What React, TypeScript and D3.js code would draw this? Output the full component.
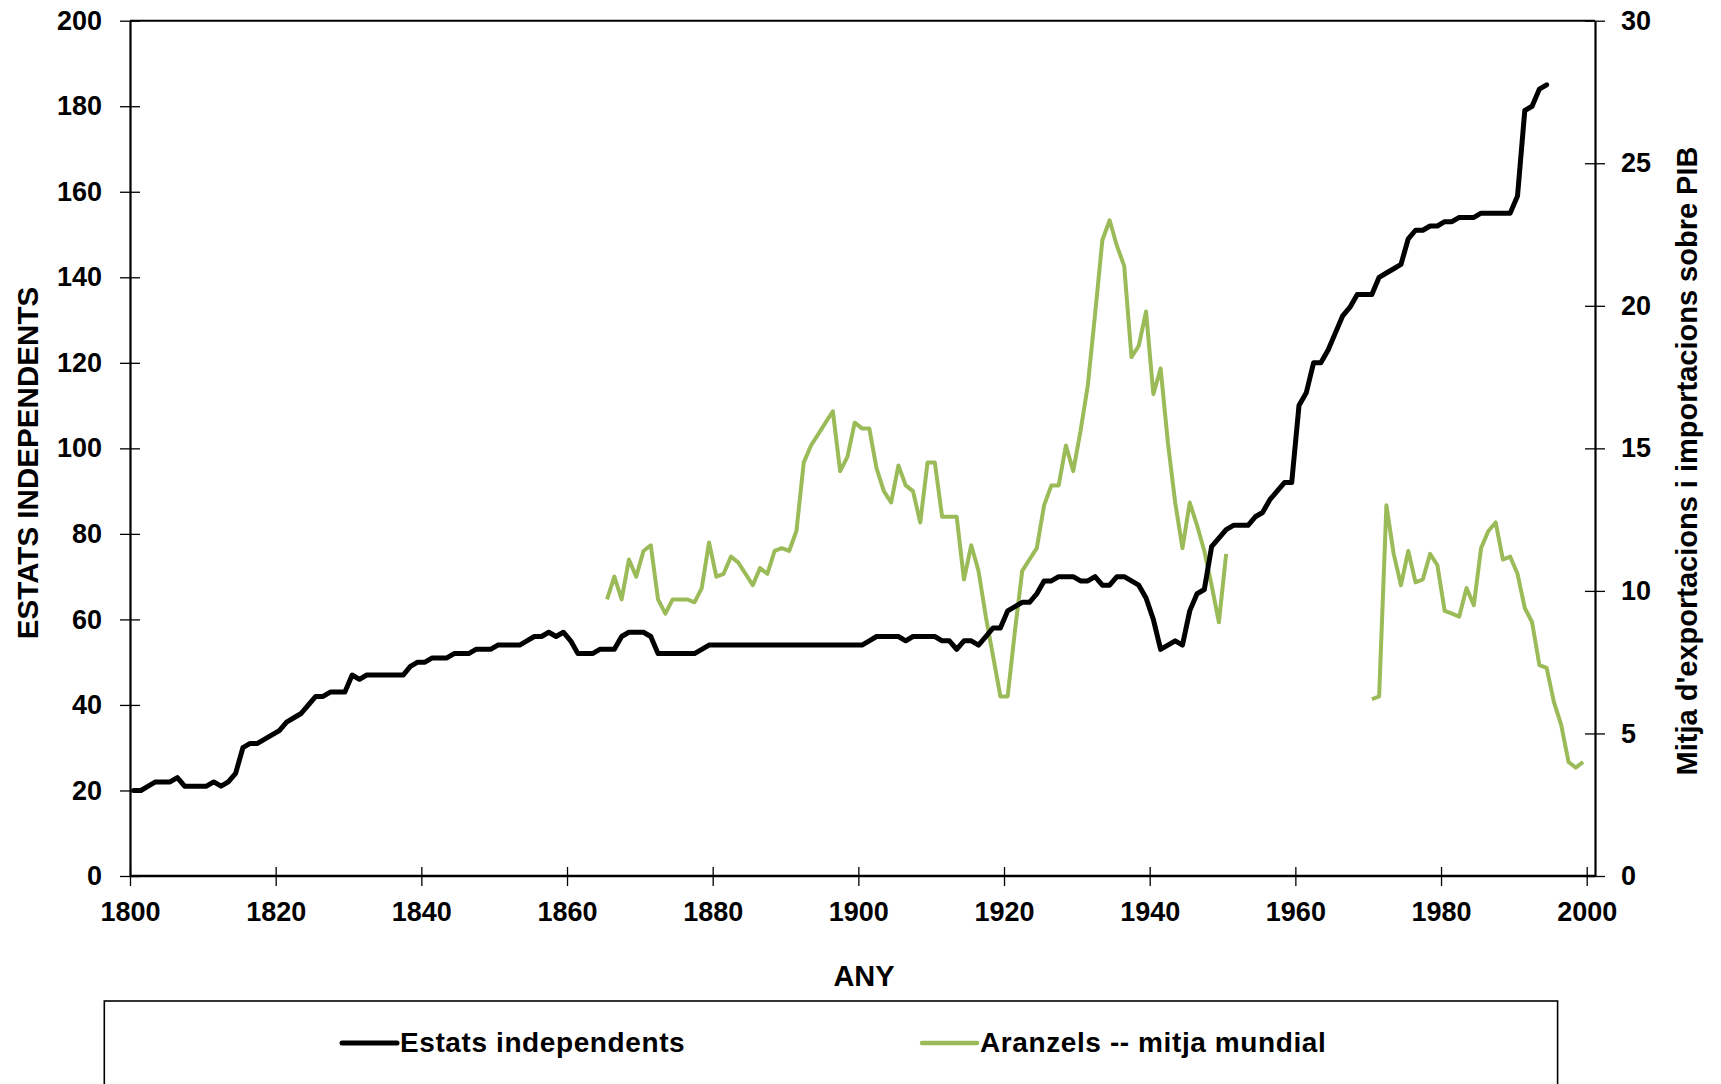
import React, { useRef, useEffect } from 'react';
import * as d3 from 'd3';

// Estats independents, one value per year from 1800
const stateStartYear = 1800;
const stateCounts = [
  20, 20, 21, 22, 22, 22, 23, 21, 21, 21, 21, 22, 21, 22, 24, 30, 31, 31, 32, 33, // 1800-1819
  34, 36, 37, 38, 40, 42, 42, 43, 43, 43, 47, 46, 47, 47, 47, 47, 47, 47, 49, 50, // 1820-1839
  50, 51, 51, 51, 52, 52, 52, 53, 53, 53, 54, 54, 54, 54, 55, 56, 56, 57, 56, 57, // 1840-1859
  55, 52, 52, 52, 53, 53, 53, 56, 57, 57, 57, 56, 52, 52, 52, 52, 52, 52, 53, 54, // 1860-1879
  54, 54, 54, 54, 54, 54, 54, 54, 54, 54, 54, 54, 54, 54, 54, 54, 54, 54, 54, 54, // 1880-1899
  54, 55, 56, 56, 56, 56, 55, 56, 56, 56, 56, 55, 55, 53, 55, 55, 54, 56, 58, 58, // 1900-1919
  62, 63, 64, 64, 66, 69, 69, 70, 70, 70, 69, 69, 70, 68, 68, 70, 70, 69, 68, 65, // 1920-1939
  60, 53, 54, 55, 54, 62, 66, 67, 77, 79, 81, 82, 82, 82, 84, 85, 88, 90, 92, 92, // 1940-1959
  110, 113, 120, 120, 123, 127, 131, 133, 136, 136, 136, 140, 141, 142, 143, 149, 151, 151, 152, 152, // 1960-1979
  153, 153, 154, 154, 154, 155, 155, 155, 155, 155, 159, 179, 180, 184, 185 // 1980-1994
];

// Aranzels -- mitja mundial, two stretches of yearly values
const tariffEarlyStart = 1865;
const tariffEarly = [
  9.7, 10.5, 9.7, 11.1, 10.5, 11.4, 11.6, 9.7, 9.2, 9.7, 9.7, 9.7, 9.6, 10.1, 11.7, // 1865-1879
  10.5, 10.6, 11.2, 11.0, 10.6, 10.2, 10.8, 10.6, 11.4, 11.5, // 1880-1889
  11.4, 12.1, 14.5, 15.1, 15.5, 15.9, 16.3, 14.2, 14.7, 15.9, // 1890-1899
  15.7, 15.7, 14.3, 13.5, 13.1, 14.4, 13.7, 13.5, 12.4, 14.5, // 1900-1909
  14.5, 12.6, 12.6, 12.6, 10.4, 11.6, 10.7, 9.1, 7.7, 6.3, // 1910-1919
  6.3, 8.6, 10.7, 11.1, 11.5, 13.0, 13.7, 13.7, 15.1, 14.2, // 1920-1929
  15.6, 17.2, 19.7, 22.3, 23.0, 22.1, 21.4, 18.2, 18.6, 19.8, // 1930-1939
  16.9, 17.8, 15.2, 13.1, 11.5, 13.1, 12.3, 11.4, 10.2, 8.9, // 1940-1949
  11.3 // 1950
];
const tariffLateStart = 1970;
const tariffLate = [
  6.2, 6.3, 13.0, 11.3, 10.2, 11.4, 10.3, 10.4, 11.3, 10.9, // 1970-1979
  9.3, 9.2, 9.1, 10.1, 9.5, 11.5, 12.1, 12.4, 11.1, 11.2, // 1980-1989
  10.6, 9.4, 8.9, 7.4, 7.3, 6.1, 5.3, 4.0, 3.8, 4.0 // 1990-1999
];

const yearTicks = [1800, 1820, 1840, 1860, 1880, 1900, 1920, 1940, 1960, 1980, 2000];
const leftTicks = [0, 20, 40, 60, 80, 100, 120, 140, 160, 180, 200];
const rightTicks = [0, 5, 10, 15, 20, 25, 30];

const seriesNames = ['Estats independents', 'Aranzels -- mitja mundial'];
const seriesColors = ['#000000', '#9bbb59'];

const FONT = '"Liberation Sans", Arial, Helvetica, sans-serif';

const App = () => {
  const svgRef = useRef(null);
  const width = 1721;
  const height = 1084;

  useEffect(() => {
    const svg = d3.select(svgRef.current);
    svg.selectAll('*').remove();

    const left = 130;
    const rightAxis = 1595;
    const top = 20.7;
    const bottom = 876;

    // 2000 sits a little left of the right-hand axis
    const x = d3.scaleLinear().domain([1800, 2000]).range([left, 1586.7]);
    const yLeft = d3.scaleLinear().domain([0, 200]).range([bottom, top]);
    const yRight = d3.scaleLinear().domain([0, 30]).range([bottom, top]);

    const states = stateCounts.map((v, i) => ({ year: stateStartYear + i, value: v }));
    const tariffA = tariffEarly.map((v, i) => ({ year: tariffEarlyStart + i, value: v }));
    const tariffB = tariffLate.map((v, i) => ({ year: tariffLateStart + i, value: v }));

    // top frame line
    svg.append('line')
      .attr('x1', left).attr('x2', rightAxis)
      .attr('y1', top).attr('y2', top)
      .attr('stroke', '#000').attr('stroke-width', 2);

    // x axis
    const gx = svg.append('g')
      .attr('transform', `translate(0,${bottom})`)
      .call(d3.axisBottom(x).tickValues(yearTicks).tickFormat(d3.format('d'))
        .tickSizeInner(10).tickSizeOuter(0).tickPadding(16));
    gx.select('.domain').remove();
    gx.selectAll('.tick line').attr('y1', -9).attr('stroke-width', 1.3);
    gx.attr('font-size', 27).attr('font-family', FONT).attr('font-weight', 'bold');

    svg.append('line')
      .attr('x1', left).attr('x2', rightAxis)
      .attr('y1', bottom).attr('y2', bottom)
      .attr('stroke', '#000').attr('stroke-width', 2.5);

    // left axis
    const gl = svg.append('g')
      .attr('transform', `translate(${left},0)`)
      .call(d3.axisLeft(yLeft).tickValues(leftTicks)
        .tickSizeInner(10).tickSizeOuter(0).tickPadding(18));
    gl.select('.domain').attr('stroke-width', 2.2);
    gl.selectAll('.tick line').attr('x1', 10).attr('stroke-width', 1.3);
    gl.attr('font-size', 27).attr('font-family', FONT).attr('font-weight', 'bold');

    // right axis
    const gr = svg.append('g')
      .attr('transform', `translate(${rightAxis},0)`)
      .call(d3.axisRight(yRight).tickValues(rightTicks)
        .tickSizeInner(10).tickSizeOuter(0).tickPadding(16));
    gr.select('.domain').attr('stroke-width', 2.2);
    gr.selectAll('.tick line').attr('x1', -10).attr('stroke-width', 1.3);
    gr.attr('font-size', 27).attr('font-family', FONT).attr('font-weight', 'bold');

    // points sit in the middle of each year slot
    const lineLeft = d3.line().x(d => x(d.year + 0.5)).y(d => yLeft(d.value));
    const lineRight = d3.line().x(d => x(d.year + 0.5)).y(d => yRight(d.value));

    [tariffA, tariffB].forEach(seg => {
      svg.append('path')
        .datum(seg)
        .attr('d', lineRight)
        .attr('fill', 'none')
        .attr('stroke', seriesColors[1])
        .attr('stroke-width', 4)
        .attr('stroke-linejoin', 'round');
    });

    svg.append('path')
      .datum(states)
      .attr('d', lineLeft)
      .attr('fill', 'none')
      .attr('stroke', seriesColors[0])
      .attr('stroke-width', 5)
      .attr('stroke-linejoin', 'round')
      .attr('stroke-linecap', 'round');

    // axis titles
    svg.append('text')
      .attr('transform', 'translate(38,463) rotate(-90)')
      .attr('text-anchor', 'middle')
      .attr('font-family', FONT).attr('font-weight', 'bold').attr('font-size', 29.6)
      .text('ESTATS INDEPENDENTS');

    svg.append('text')
      .attr('transform', 'translate(1697,461) rotate(-90)')
      .attr('text-anchor', 'middle')
      .attr('font-family', FONT).attr('font-weight', 'bold').attr('font-size', 29)
      .text("Mitja d'exportacions i importacions sobre PIB");

    svg.append('text')
      .attr('x', 864).attr('y', 986)
      .attr('text-anchor', 'middle')
      .attr('font-family', FONT).attr('font-weight', 'bold').attr('font-size', 29)
      .text('ANY');

    // legend
    svg.append('rect')
      .attr('x', 104.3).attr('y', 1001)
      .attr('width', 1453.3).attr('height', 120)
      .attr('fill', 'none').attr('stroke', '#000').attr('stroke-width', 1.6);

    const legendX = [342, 922];
    const legend = svg.append('g').selectAll('g')
      .data(seriesNames)
      .join('g')
      .attr('transform', (d, i) => `translate(${legendX[i]},1043)`);
    legend.append('line')
      .attr('x1', 0).attr('x2', 55)
      .attr('stroke', (d, i) => seriesColors[i])
      .attr('stroke-width', (d, i) => (i === 0 ? 5 : 4.5))
      .attr('stroke-linecap', 'round');
    legend.append('text')
      .attr('x', 58).attr('y', 9)
      .attr('font-family', FONT).attr('font-weight', 'bold').attr('font-size', 28)
      .attr('letter-spacing', 0.6)
      .text(d => d);
  }, []);

  return (
    <svg
      ref={svgRef}
      width={width}
      height={height}
      style={{ position: 'absolute', left: 0, top: 0, background: '#fff' }}
    />
  );
};

export default App;
